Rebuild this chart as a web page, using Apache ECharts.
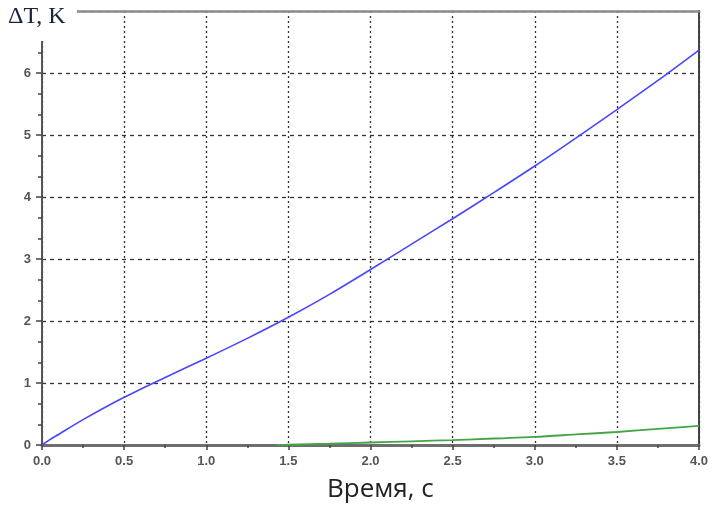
<!DOCTYPE html>
<html>
<head>
<meta charset="utf-8">
<script src="https://cdn.jsdelivr.net/npm/echarts@6/dist/echarts.min.js"></script>
<style>
  html, body { margin: 0; padding: 0; background: #fff; }
  #chart { width: 712px; height: 505px; }
</style>
</head>
<body>
<div id="chart"></div>
<script>
// Time samples (s) and temperature rise (K) for the two curves
const timeBlue = [0, 0.05, 0.1, 0.25, 0.5, 0.75, 1.0, 1.25, 1.5, 1.75, 2.0, 2.25, 2.5, 2.75, 3.0, 3.25, 3.5, 3.75, 4.0];
const deltaBlue = [0, 0.09, 0.17, 0.41, 0.77, 1.09, 1.40, 1.72, 2.06, 2.43, 2.83, 3.24, 3.65, 4.07, 4.50, 4.95, 5.41, 5.88, 6.37];

const timeGreen = [1.43, 1.5, 1.75, 2.0, 2.25, 2.5, 2.75, 3.0, 3.25, 3.5, 3.75, 4.0];
const deltaGreen = [0, 0.004, 0.02, 0.04, 0.06, 0.08, 0.105, 0.13, 0.17, 0.21, 0.26, 0.31];

const xTicks = { min: 0, max: 4, interval: 0.5 };
const yTicks = { min: 0, max: 7, interval: 1 };

const xTitle = 'Время, с';
const yTitle = 'ΔT, K';

const pairs = (xs, ys) => xs.map((x, i) => [x, ys[i]]);

const labelFont = {
  color: '#555', fontSize: 13, fontWeight: 'bold',
  fontFamily: 'Liberation Sans, Arial, sans-serif'
};

const chart = echarts.init(document.getElementById('chart'));
chart.setOption({
  animation: false,
  backgroundColor: '#ffffff',
  grid: { left: 42, right: 13, top: 11, bottom: 60, containLabel: false },
  xAxis: [{
    type: 'value',
    min: xTicks.min, max: xTicks.max, interval: xTicks.interval,
    axisLine: { show: true, onZero: false, lineStyle: { color: '#6e6e6e', width: 3 } },
    axisTick: { show: true, length: 5, lineStyle: { color: '#444', width: 1.5 } },
    minorTick: { show: true, splitNumber: 2, length: 3, lineStyle: { color: '#444', width: 1.5 } },
    axisLabel: Object.assign({ margin: 10, formatter: v => v.toFixed(1) }, labelFont),
    splitLine: { show: true, lineStyle: { color: '#333', width: 1.3, type: [2, 3] } }
  }, {
    type: 'value', position: 'top',
    min: xTicks.min, max: xTicks.max,
    axisLine: { show: true, onZero: false, lineStyle: { color: '#8a8a8a', width: 2.5 } },
    axisTick: { show: false }, axisLabel: { show: false }, splitLine: { show: false }
  }],
  yAxis: [{
    type: 'value',
    min: yTicks.min, max: yTicks.max, interval: yTicks.interval,
    axisLine: { show: true, onZero: false, lineStyle: { color: '#555', width: 2 } },
    axisTick: { show: true, length: 6, lineStyle: { color: '#444', width: 1.5 } },
    minorTick: { show: true, splitNumber: 3, length: 4, lineStyle: { color: '#444', width: 1.5 } },
    axisLabel: Object.assign({ margin: 11, formatter: v => (v >= 7 ? '' : String(v)) }, labelFont),
    splitLine: { show: true, lineStyle: { color: '#333', width: 1.3, type: [4, 4] } }
  }, {
    type: 'value', position: 'right',
    min: yTicks.min, max: yTicks.max,
    axisLine: { show: true, onZero: false, lineStyle: { color: '#444', width: 2 } },
    axisTick: { show: false }, axisLabel: { show: false }, splitLine: { show: false }
  }],
  series: [{
    type: 'line',
    data: pairs(timeBlue, deltaBlue),
    smooth: 0.3,
    showSymbol: false,
    lineStyle: { color: '#4747ff', width: 1.6 },
    z: 5
  }, {
    type: 'line',
    data: pairs(timeGreen, deltaGreen),
    smooth: 0.3,
    showSymbol: false,
    lineStyle: { color: '#45a545', width: 1.8 },
    z: 4
  }],
  graphic: [{
    // white patch behind the y-axis title, cutting the corner of the frame
    type: 'rect', z: 100,
    shape: { x: 0, y: 0, width: 77, height: 41 },
    style: { fill: '#ffffff' }
  }, {
    type: 'text', z: 101, left: 8, top: 5,
    style: { text: yTitle, fill: '#1a2440', font: '24px "Liberation Serif", serif' }
  }, {
    type: 'text', z: 101, left: 327, top: 477,
    style: { text: xTitle, fill: '#222', font: '26px "Open Sans", sans-serif' }
  }]
});
</script>
</body>
</html>
